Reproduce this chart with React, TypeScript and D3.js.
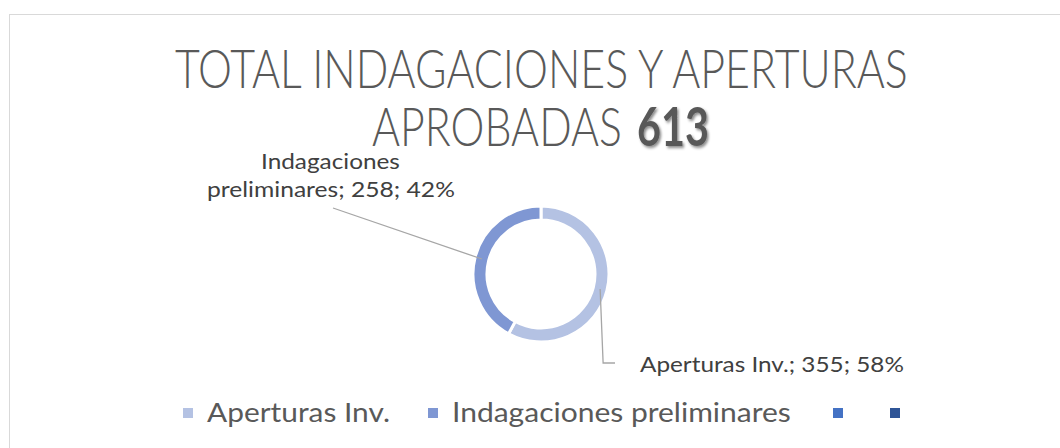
import React, { useEffect, useRef } from "react"
import * as d3 from "d3"

// data
const categories = ["Aperturas Inv.", "Indagaciones preliminares"]
const values = [355, 258]
const colors = ["#B4C2E3", "#7F97D3"]
const legendNames = ["Aperturas Inv.", "Indagaciones preliminares", "", ""]
const legendColors = ["#B4C2E3", "#7F97D3", "#4472C4", "#2F5597"]
const total = 613

export default function App() {
    const svgRef = useRef<SVGSVGElement>(null)

    useEffect(() => {
        const width = 1060
        const height = 448
        const cx = 541
        const cy = 274
        const outerR = 68
        const innerR = 54
        const font = "Lato, 'Open Sans', sans-serif"

        const svg = d3.select(svgRef.current)
        svg.selectAll("*").remove()
        svg.attr("width", width).attr("height", height)

        svg.append("rect")
            .attr("width", width).attr("height", height).attr("fill", "#fff")

        // chart area border
        svg.append("rect")
            .attr("x", 9.5).attr("y", 14.5)
            .attr("width", width + 20).attr("height", height + 20)
            .attr("fill", "none").attr("stroke", "#D9D9D9").attr("stroke-width", 1)

        // text squeezed horizontally to the width it has in the reference
        const fitText = (
            parent: d3.Selection<any, unknown, null, undefined>,
            x: number, y: number, w: number, size: number, txt: string
        ) => {
            const t = parent.append("text")
                .style("font-size", size + "px")
                .text(txt)
            const natural = (t.node() as SVGTextElement).getComputedTextLength()
            const s = natural > 0 ? w / natural : 1
            t.attr("transform", `translate(${x},${y}) scale(${s},1)`)
            return t
        }

        // title
        const title = svg.append("g").attr("fill", "#595959")
            .style("font-family", font).style("font-weight", 300)
        fitText(title, 175, 88, 733, 53, "TOTAL INDAGACIONES Y APERTURAS")
        fitText(title, 372, 146, 250, 53, "APROBADAS")

        const defs = svg.append("defs")
        const f = defs.append("filter").attr("id", "shadow")
            .attr("x", "-20%").attr("y", "-20%").attr("width", "150%").attr("height", "150%")
        f.append("feDropShadow")
            .attr("dx", 2).attr("dy", 2).attr("stdDeviation", 1.5)
            .attr("flood-color", "#000").attr("flood-opacity", 0.45)

        const bold = svg.append("g").attr("fill", "#595959")
            .style("font-family", font).style("font-weight", 700)
        fitText(bold, 637, 146, 72, 53, String(total)).attr("filter", "url(#shadow)")

        // donut
        const pie = d3.pie<number>().sort(null).value((d) => d)
        const arcs = pie(values)
        const arc = d3.arc<d3.PieArcDatum<number>>().innerRadius(innerR).outerRadius(outerR)
        const g = svg.append("g").attr("transform", `translate(${cx},${cy})`)
        g.selectAll("path")
            .data(arcs)
            .join("path")
            .attr("d", arc)
            .attr("fill", (_, i) => colors[i])
            .attr("stroke", "#fff")
            .attr("stroke-width", 3)

        const sum = d3.sum(values)
        const mid = (a: d3.PieArcDatum<number>) => {
            const ang = (a.startAngle + a.endAngle) / 2
            const r = (innerR + outerR) / 2
            return [cx + r * Math.sin(ang), cy - r * Math.cos(ang)]
        }

        // leader lines
        const [ax, ay] = mid(arcs[0])
        const [bx, by] = mid(arcs[1])
        svg.append("polyline")
            .attr("points", `${ax},${ay} ${ax + 3},363 615,363`)
            .attr("fill", "none").attr("stroke", "#A6A6A6").attr("stroke-width", 1.3)
        svg.append("line")
            .attr("x1", bx).attr("y1", by).attr("x2", 333).attr("y2", 208)
            .attr("stroke", "#A6A6A6").attr("stroke-width", 1.3)

        // data labels
        const pct = (v: number) => Math.round((v / sum) * 100) + "%"
        const labels = svg.append("g").attr("fill", "#404040")
            .style("font-family", font)
        fitText(labels, 640, 372, 264, 22, `${categories[0]}; ${values[0]}; ${pct(values[0])}`)
        fitText(labels, 261, 169, 139, 22, "Indagaciones")
        fitText(labels, 207, 197, 248, 22, `preliminares; ${values[1]}; ${pct(values[1])}`)

        // legend
        const legendX = [183, 428, 833, 890]
        const legendW = [183, 339, 0, 0]
        const leg = svg.append("g").attr("fill", "#595959").style("font-family", font)
        legendNames.forEach((name, i) => {
            leg.append("rect")
                .attr("x", legendX[i]).attr("y", 408)
                .attr("width", 10).attr("height", 10)
                .attr("fill", legendColors[i])
            if (name) {
                fitText(leg, legendX[i] + 24, 422, legendW[i], 27, name)
            }
        })
    }, [])

    return (
        <svg ref={svgRef} style={{ position: "absolute", left: 0, top: 0, display: "block" }} />
    )
}
